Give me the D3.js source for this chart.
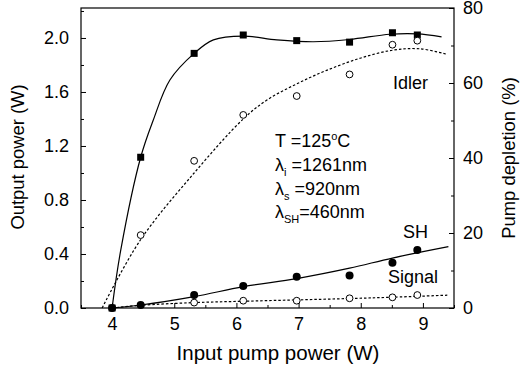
<!DOCTYPE html>
<html>
<head>
<meta charset="utf-8">
<script src="https://cdn.jsdelivr.net/npm/d3@7"></script>
<style>
  body { margin: 0; background: #fff; }
  svg { font-family: "Liberation Sans", Arial, sans-serif; }
  .axis path, .axis line { stroke: #000; }
</style>
</head>
<body>
<svg width="520" height="369"></svg>
<script>
// input pump power (W)
const pumpX = [4.0, 4.46, 5.32, 6.11, 6.97, 7.82, 8.51, 8.91];
// measured points
const depletion = [0, 40.2, 67.9, 72.8, 71.3, 70.9, 73.4, 72.8];       // %
const idler = [null, 0.54, 1.09, 1.43, 1.57, 1.73, 1.95, 1.98];       // W
const sh = [0, 0.022, 0.096, 0.163, 0.232, 0.24, 0.336, 0.43];       // W
const signal = [null, null, 0.04, 0.054, 0.054, 0.072, 0.079, 0.096]; // W

// fit curves
const depFitX = [4.0, 4.14, 4.46, 4.66, 4.93, 5.32, 5.63, 6.11, 6.65, 7.24, 7.82, 8.47, 8.91, 9.3];
const depFitY = [0, 15.5, 40.2, 50, 60.8, 67.9, 71.5, 72.5, 71.5, 71.0, 71.6, 73.0, 73.1, 72.3];
const idlerFitX = [3.84, 4.45, 5.32, 6.11, 6.49, 6.97, 7.45, 7.99, 8.52, 8.95, 9.38];
const idlerFitY = [0, 0.5, 1.0, 1.40, 1.54, 1.66, 1.76, 1.85, 1.91, 1.92, 1.88];
const shFitX = [4.0, 4.46, 5.32, 6.11, 6.97, 7.82, 8.51, 9.41];
const shFitY = [0, 0.022, 0.084, 0.158, 0.218, 0.295, 0.37, 0.454];
const sigFitX = [4.0, 4.46, 5.32, 6.11, 6.97, 7.82, 8.51, 9.4];
const sigFitY = [0, 0.02, 0.04, 0.05, 0.06, 0.07, 0.08, 0.095];

const xTicks = [4, 5, 6, 7, 8, 9];
const yLeftTicks = [0, 0.4, 0.8, 1.2, 1.6, 2.0];
const yRightTicks = [0, 20, 40, 60, 80];

const margin = { top: 8, right: 66, bottom: 61, left: 81 },
    width = 520 - margin.left - margin.right,
    height = 369 - margin.top - margin.bottom;

const svg = d3.select("svg");
const g = svg.append("g")
    .attr("transform", "translate(" + margin.left + "," + margin.top + ")");

const x = d3.scaleLinear().domain([3.5, 9.5]).range([0, width]);
const yL = d3.scaleLinear().domain([0, 2.222]).range([height, 0]);
const yR = d3.scaleLinear().domain([0, 80]).range([height, 0]);

const fs = 18;

// frame
g.append("rect").attr("width", width).attr("height", height)
    .attr("fill", "none").attr("stroke", "#000").attr("stroke-width", 1.2);

// axes with inward ticks
function styleAxis(sel) {
    sel.select(".domain").remove();
    sel.selectAll("text").style("font-size", fs + "px").attr("fill", "#000");
    sel.selectAll("line").attr("stroke", "#000");
}
g.append("g").attr("class", "axis").attr("transform", "translate(0," + height + ")")
    .call(d3.axisBottom(x).tickValues(xTicks).tickSizeInner(-5).tickPadding(9).tickFormat(d3.format("d")))
    .call(styleAxis);
g.append("g").attr("class", "axis").attr("transform", "translate(0," + height + ")")
    .call(d3.axisBottom(x).tickValues(d3.range(3.5, 9.6, 1)).tickSize(-3).tickFormat(""))
    .call(styleAxis);
g.append("g").attr("class", "axis")
    .call(d3.axisLeft(yL).tickValues(yLeftTicks).tickSizeInner(-5).tickPadding(12).tickFormat(d3.format(".1f")))
    .call(styleAxis);
g.append("g").attr("class", "axis")
    .call(d3.axisLeft(yL).tickValues([0.2, 0.6, 1.0, 1.4, 1.8, 2.2]).tickSize(-3).tickFormat(""))
    .call(styleAxis);
g.append("g").attr("class", "axis").attr("transform", "translate(" + width + ",0)")
    .call(d3.axisRight(yR).tickValues(yRightTicks).tickSizeInner(-5).tickPadding(9))
    .call(styleAxis);
g.append("g").attr("class", "axis").attr("transform", "translate(" + width + ",0)")
    .call(d3.axisRight(yR).tickValues([10, 30, 50, 70]).tickSize(-3).tickFormat(""))
    .call(styleAxis);

// axis titles
svg.append("text").attr("x", 278).attr("y", 360)
    .attr("text-anchor", "middle").style("font-size", "20.5px").text("Input pump power (W)");
svg.append("text").attr("transform", "translate(24,157) rotate(-90)")
    .attr("text-anchor", "middle").style("font-size", "18.4px").text("Output power (W)");
svg.append("text").attr("transform", "translate(515,158) rotate(-90)")
    .attr("text-anchor", "middle").style("font-size", "18.4px").text("Pump depletion (%)");

// fit curves
const plot = g.append("g");
function fitLine(xs, ys, yScale, dash) {
    const pts = xs.map((v, i) => [v, ys[i]]);
    plot.append("path")
        .attr("d", d3.line().x(d => x(d[0])).y(d => yScale(d[1])).curve(d3.curveCatmullRom.alpha(0.5))(pts))
        .attr("fill", "none").attr("stroke", "#000").attr("stroke-width", 1.2)
        .attr("stroke-dasharray", dash ? "2.5,2" : null);
}
fitLine(depFitX, depFitY, yR, false);
fitLine(idlerFitX, idlerFitY, yL, true);
fitLine(shFitX, shFitY, yL, false);
fitLine(sigFitX, sigFitY, yL, true);

// markers
function pts(ys) {
    return pumpX.map((v, i) => [v, ys[i]]).filter(d => d[1] !== null);
}
plot.selectAll(".sq").data(pts(depletion)).enter().append("rect")
    .attr("x", d => x(d[0]) - 3.5).attr("y", d => yR(d[1]) - 3.5)
    .attr("width", 7).attr("height", 7).attr("fill", "#000");
plot.selectAll(".idl").data(pts(idler)).enter().append("circle")
    .attr("cx", d => x(d[0])).attr("cy", d => yL(d[1])).attr("r", 3.4)
    .attr("fill", "#fff").attr("stroke", "#000").attr("stroke-width", 1);
plot.selectAll(".sh").data(pts(sh)).enter().append("circle")
    .attr("cx", d => x(d[0])).attr("cy", d => yL(d[1])).attr("r", 4)
    .attr("fill", "#000");
plot.selectAll(".sig").data(pts(signal)).enter().append("circle")
    .attr("cx", d => x(d[0])).attr("cy", d => yL(d[1])).attr("r", 3.4)
    .attr("fill", "#fff").attr("stroke", "#000").attr("stroke-width", 1);

// labels
function label(px, py, t) {
    svg.append("text").attr("x", px).attr("y", py).style("font-size", fs + "px").text(t);
}
label(393, 89, "Idler");
label(403, 238, "SH");
label(388, 283, "Signal");

// annotation block
const ann = svg.append("g").style("font-size", fs + "px");
let t = ann.append("text").attr("x", 275).attr("y", 147);
t.append("tspan").text("T =125");
t.append("tspan").attr("dy", -7).style("font-size", "11px").text("o");
t.append("tspan").attr("dy", 7).text("C");

t = ann.append("text").attr("x", 275).attr("y", 171);
t.append("tspan").text("λ");
t.append("tspan").attr("dy", 5).style("font-size", "11px").text("i");
t.append("tspan").attr("dy", -5).text(" =1261nm");

t = ann.append("text").attr("x", 275).attr("y", 195);
t.append("tspan").text("λ");
t.append("tspan").attr("dy", 5).style("font-size", "11px").text("s");
t.append("tspan").attr("dy", -5).text(" =920nm");

t = ann.append("text").attr("x", 275).attr("y", 218);
t.append("tspan").text("λ");
t.append("tspan").attr("dy", 5).style("font-size", "11px").text("SH");
t.append("tspan").attr("dy", -5).text("=460nm");
</script>
</body>
</html>
